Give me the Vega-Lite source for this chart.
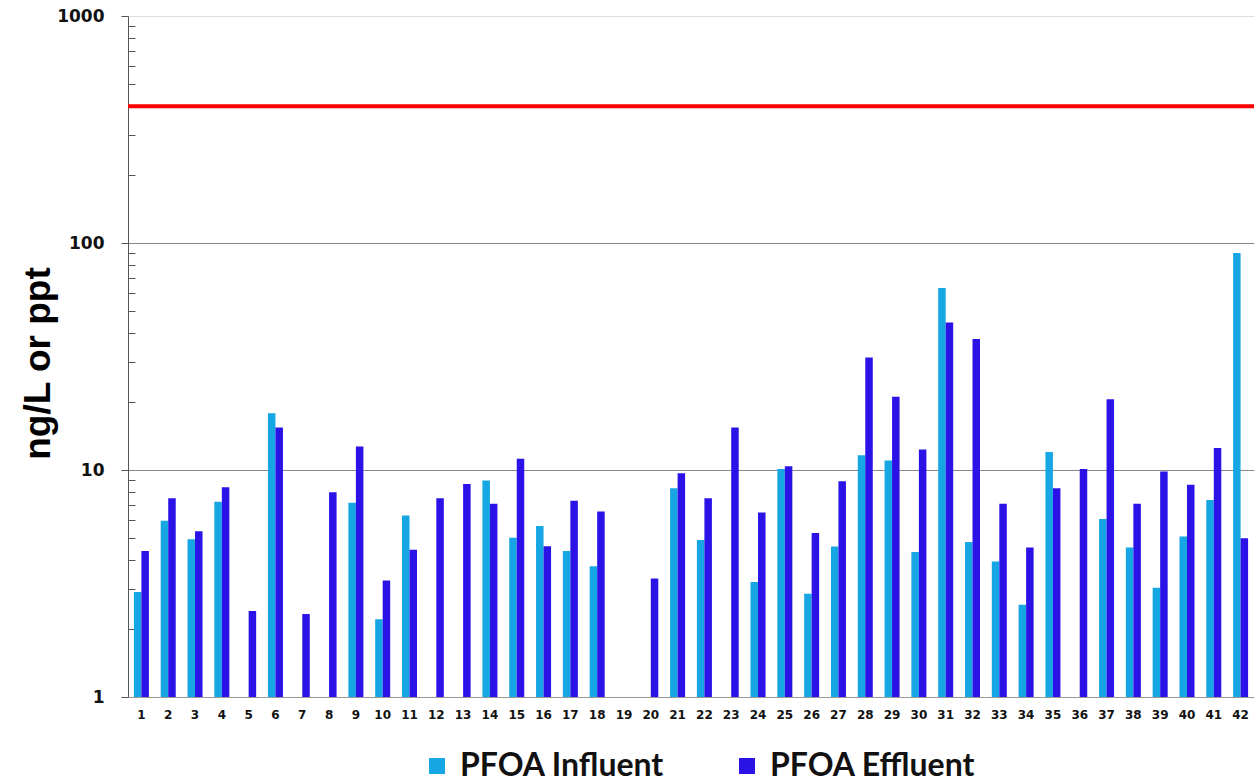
{
  "$schema": "https://vega.github.io/schema/vega-lite/v6.json",
  "width": 1126,
  "height": 681,
  "autosize": "none",
  "padding": {"left": 128, "top": 16, "right": 3, "bottom": 86},
  "background": "white",
  "config": {"view": {"stroke": null}},
  "datasets": {
    "pfoa": [
      {"site": 1, "series": "PFOA Influent", "value": 2.9},
      {"site": 1, "series": "PFOA Effluent", "value": 4.4},
      {"site": 2, "series": "PFOA Influent", "value": 5.97},
      {"site": 2, "series": "PFOA Effluent", "value": 7.5},
      {"site": 3, "series": "PFOA Influent", "value": 4.95},
      {"site": 3, "series": "PFOA Effluent", "value": 5.37},
      {"site": 4, "series": "PFOA Influent", "value": 7.24},
      {"site": 4, "series": "PFOA Effluent", "value": 8.39},
      {"site": 5, "series": "PFOA Effluent", "value": 2.39},
      {"site": 6, "series": "PFOA Influent", "value": 17.8},
      {"site": 6, "series": "PFOA Effluent", "value": 15.4},
      {"site": 7, "series": "PFOA Effluent", "value": 2.32},
      {"site": 8, "series": "PFOA Effluent", "value": 7.98},
      {"site": 9, "series": "PFOA Influent", "value": 7.17},
      {"site": 9, "series": "PFOA Effluent", "value": 12.7},
      {"site": 10, "series": "PFOA Influent", "value": 2.2},
      {"site": 10, "series": "PFOA Effluent", "value": 3.26},
      {"site": 11, "series": "PFOA Influent", "value": 6.3},
      {"site": 11, "series": "PFOA Effluent", "value": 4.45},
      {"site": 12, "series": "PFOA Effluent", "value": 7.5},
      {"site": 13, "series": "PFOA Effluent", "value": 8.68},
      {"site": 14, "series": "PFOA Influent", "value": 9.0},
      {"site": 14, "series": "PFOA Effluent", "value": 7.11},
      {"site": 15, "series": "PFOA Influent", "value": 5.03},
      {"site": 15, "series": "PFOA Effluent", "value": 11.2},
      {"site": 16, "series": "PFOA Influent", "value": 5.67},
      {"site": 16, "series": "PFOA Effluent", "value": 4.61},
      {"site": 17, "series": "PFOA Influent", "value": 4.4},
      {"site": 17, "series": "PFOA Effluent", "value": 7.32},
      {"site": 18, "series": "PFOA Influent", "value": 3.77},
      {"site": 18, "series": "PFOA Effluent", "value": 6.56},
      {"site": 20, "series": "PFOA Effluent", "value": 3.33},
      {"site": 21, "series": "PFOA Influent", "value": 8.31},
      {"site": 21, "series": "PFOA Effluent", "value": 9.68},
      {"site": 22, "series": "PFOA Influent", "value": 4.92},
      {"site": 22, "series": "PFOA Effluent", "value": 7.5},
      {"site": 23, "series": "PFOA Effluent", "value": 15.4},
      {"site": 24, "series": "PFOA Influent", "value": 3.21},
      {"site": 24, "series": "PFOA Effluent", "value": 6.49},
      {"site": 25, "series": "PFOA Influent", "value": 10.1},
      {"site": 25, "series": "PFOA Effluent", "value": 10.4},
      {"site": 26, "series": "PFOA Influent", "value": 2.85},
      {"site": 26, "series": "PFOA Effluent", "value": 5.28},
      {"site": 27, "series": "PFOA Influent", "value": 4.6},
      {"site": 27, "series": "PFOA Effluent", "value": 8.93},
      {"site": 28, "series": "PFOA Influent", "value": 11.6},
      {"site": 28, "series": "PFOA Effluent", "value": 31.3},
      {"site": 29, "series": "PFOA Influent", "value": 11.0},
      {"site": 29, "series": "PFOA Effluent", "value": 21.0},
      {"site": 30, "series": "PFOA Influent", "value": 4.35},
      {"site": 30, "series": "PFOA Effluent", "value": 12.3},
      {"site": 31, "series": "PFOA Influent", "value": 63.3},
      {"site": 31, "series": "PFOA Effluent", "value": 44.7},
      {"site": 32, "series": "PFOA Influent", "value": 4.82},
      {"site": 32, "series": "PFOA Effluent", "value": 37.8},
      {"site": 33, "series": "PFOA Influent", "value": 3.95},
      {"site": 33, "series": "PFOA Effluent", "value": 7.11},
      {"site": 34, "series": "PFOA Influent", "value": 2.55},
      {"site": 34, "series": "PFOA Effluent", "value": 4.56},
      {"site": 35, "series": "PFOA Influent", "value": 12.0},
      {"site": 35, "series": "PFOA Effluent", "value": 8.31},
      {"site": 36, "series": "PFOA Effluent", "value": 10.1},
      {"site": 37, "series": "PFOA Influent", "value": 6.08},
      {"site": 37, "series": "PFOA Effluent", "value": 20.5},
      {"site": 38, "series": "PFOA Influent", "value": 4.56},
      {"site": 38, "series": "PFOA Effluent", "value": 7.11},
      {"site": 39, "series": "PFOA Influent", "value": 3.03},
      {"site": 39, "series": "PFOA Effluent", "value": 9.85},
      {"site": 40, "series": "PFOA Influent", "value": 5.09},
      {"site": 40, "series": "PFOA Effluent", "value": 8.62},
      {"site": 41, "series": "PFOA Influent", "value": 7.37},
      {"site": 41, "series": "PFOA Effluent", "value": 12.5},
      {"site": 42, "series": "PFOA Influent", "value": 90.3},
      {"site": 42, "series": "PFOA Effluent", "value": 5.01}
    ],
    "limit": [{"value": 400}]
  },
  "layer": [
    {
      "data": {"name": "pfoa"},
      "mark": {"type": "bar"},
      "encoding": {
        "x": {
          "field": "site",
          "type": "ordinal",
          "scale": {
            "domain": [1,2,3,4,5,6,7,8,9,10,11,12,13,14,15,16,17,18,19,20,21,22,23,24,25,26,27,28,29,30,31,32,33,34,35,36,37,38,39,40,41,42],
            "paddingInner": 0.44,
            "paddingOuter": 0.22
          },
          "axis": {
            "title": null,
            "labelAngle": 0,
            "labelFont": "DejaVu Sans",
            "labelFontWeight": "bold",
            "labelFontSize": 12,
            "labelColor": "#111",
            "labelPadding": 12,
            "ticks": false,
            "domainColor": "#999",
            "domainWidth": 1
          }
        },
        "xOffset": {
          "field": "series",
          "type": "nominal",
          "scale": {"domain": ["PFOA Influent", "PFOA Effluent"], "paddingInner": 0, "paddingOuter": 0}
        },
        "y": {
          "field": "value",
          "type": "quantitative",
          "stack": null,
          "scale": {"type": "log", "domain": [1, 1000], "nice": false},
          "axis": {
            "title": "ng/L or ppt",
            "titleFont": "Liberation Sans",
            "titleFontSize": 37,
            "titleFontWeight": "bold",
            "titleColor": "#000",
            "titleX": -71,
            "titleY": 347,
            "titleAlign": "center",
            "titleAngle": 270,
            "titleBaseline": "bottom",
            "values": [1,2,3,4,5,6,7,8,9,10,20,30,40,50,60,70,80,90,100,200,300,400,500,600,700,800,900,1000],
            "labelExpr": "indexof([1,10,100,1000], datum.value) >= 0 ? '' + datum.value : ''",
            "labelFont": "DejaVu Sans",
            "labelFontWeight": "bold",
            "labelFontSize": 17,
            "labelColor": "#111",
            "labelPadding": 17,
            "tickColor": "#555",
            "tickSize": {"condition": {"test": "indexof([1,10,100,1000], datum.value) >= 0", "value": 7}, "value": -7},
            "domainColor": "#555",
            "grid": true,
            "gridColor": {"condition": {"test": "datum.value == 1000", "value": "#dddddd"}, "value": "#888888"},
            "gridOpacity": {"condition": {"test": "indexof([10,100,1000], datum.value) >= 0", "value": 1}, "value": 0},
            "gridWidth": 1
          }
        },
        "color": {
          "field": "series",
          "type": "nominal",
          "scale": {"domain": ["PFOA Influent", "PFOA Effluent"], "range": ["#17a6e4", "#2b12e6"]},
          "legend": {
            "title": null,
            "orient": "none",
            "direction": "horizontal",
            "legendX": 293,
            "legendY": 734,
            "symbolType": "square",
            "symbolSize": 256,
            "symbolStrokeWidth": 0,
            "labelFont": "Lato",
            "labelFontWeight": "bold",
            "labelFontSize": 32,
            "labelColor": "#111",
            "labelOffset": 7,
            "labelLimit": 400,
            "columnPadding": 66
          }
        }
      }
    },
    {
      "data": {"name": "limit"},
      "mark": {"type": "rule", "color": "#ff0000", "strokeWidth": 4},
      "encoding": {
        "y": {"field": "value", "type": "quantitative"}
      }
    }
  ]
}
